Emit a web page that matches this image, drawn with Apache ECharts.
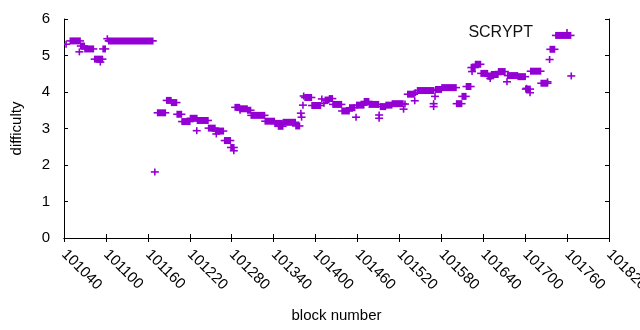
<!DOCTYPE html>
<html>
<head>
<meta charset="utf-8">
<title>SCRYPT difficulty</title>
<script src="https://cdn.jsdelivr.net/npm/echarts@6/dist/echarts.min.js"></script>
<style>
  html, body { margin: 0; padding: 0; background: #fff; }
  #chart { width: 640px; height: 330px; }
</style>
</head>
<body>
<div id="chart"></div>
<script>
// runs of blocks that share one difficulty value (from == to is a single block)
var blockFrom = [101043, 101049, 101062, 101064, 101070, 101084, 101092, 101096, 101102, 101104,
    101170, 101174, 101187, 101194, 101202, 101209, 101221, 101230, 101231, 101247,
    101257, 101258, 101270, 101279, 101283, 101285, 101292, 101292, 101303, 101308,
    101328, 101342, 101347, 101354, 101372, 101379, 101380, 101382, 101383, 101385,
    101395, 101409, 101412, 101414, 101420, 101425, 101438, 101449, 101458, 101459,
    101470, 101477, 101491, 101491, 101493, 101501, 101510, 101526, 101528, 101532,
    101542, 101543, 101546, 101569, 101569, 101571, 101572, 101581, 101602, 101610,
    101616, 101623, 101624, 101629, 101637, 101647, 101650, 101652, 101662, 101674,
    101675, 101690, 101701, 101702, 101707, 101708, 101723, 101732, 101735, 101736,
    101744, 101766];
var blockTo = [101043, 101063, 101062, 101069, 101082, 101095, 101092, 101099, 101102, 101167,
    101170, 101185, 101193, 101201, 101208, 101220, 101230, 101230, 101246, 101256,
    101268, 101258, 101278, 101283, 101283, 101291, 101302, 101292, 101307, 101327,
    101341, 101352, 101353, 101371, 101377, 101379, 101380, 101382, 101383, 101394,
    101407, 101409, 101412, 101419, 101424, 101437, 101448, 101456, 101458, 101469,
    101476, 101490, 101491, 101491, 101500, 101509, 101525, 101526, 101528, 101541,
    101542, 101543, 101569, 101569, 101569, 101571, 101580, 101601, 101609, 101615,
    101622, 101628, 101624, 101636, 101646, 101651, 101650, 101661, 101671, 101674,
    101689, 101700, 101707, 101702, 101707, 101722, 101732, 101732, 101735, 101742,
    101765, 101766];
var difficulty = [5.31, 5.40, 5.10, 5.26, 5.18, 4.90, 4.82, 5.18, 5.46, 5.40,
    1.81, 3.43, 3.77, 3.71, 3.39, 3.19, 3.28, 2.94, 3.22, 3.01,
    2.93, 2.85, 2.67, 2.48, 2.39, 3.58, 3.54, 3.50, 3.50, 3.36,
    3.20, 3.14, 3.06, 3.17, 3.07, 3.42, 3.31, 3.64, 3.89, 3.85,
    3.63, 3.81, 3.69, 3.78, 3.82, 3.66, 3.48, 3.57, 3.31, 3.64,
    3.74, 3.66, 3.37, 3.28, 3.60, 3.64, 3.68, 3.53, 3.67, 3.94,
    3.76, 3.98, 4.04, 3.68, 3.60, 3.88, 4.07, 4.12, 3.68, 3.88,
    4.15, 4.67, 4.56, 4.76, 4.51, 4.43, 4.37, 4.48, 4.56, 4.28,
    4.45, 4.42, 4.08, 4.10, 3.98, 4.57, 4.24, 4.28, 4.89, 5.17,
    5.55, 4.44];

var seriesName = 'SCRYPT';
var purple = '#9400d3';
var font = 'Liberation Sans, Arial, sans-serif';

var runs = blockFrom.map(function (b, i) {
    return [b, blockTo[i], difficulty[i]];
});

// gnuplot style '+' points; a run of neighbouring blocks merges into a bar
function drawRun(params, api) {
    var y = api.value(2);
    var a = api.coord([api.value(0), y]);
    var b = api.coord([api.value(1), y]);
    var h = 3.5;
    return {
        type: 'group',
        children: [{
            type: 'rect',
            shape: { x: a[0] - 0.8, y: a[1] - h, width: b[0] - a[0] + 1.6, height: 2 * h },
            style: { fill: purple }
        }, {
            type: 'line',
            shape: { x1: a[0] - h - 0.5, y1: a[1], x2: b[0] + h + 0.5, y2: a[1] },
            style: { stroke: purple, lineWidth: 1.6 }
        }]
    };
}

var tickStyle = { show: true, inside: true, length: 4, lineStyle: { color: '#000' } };
var lineStyle = { show: true, lineStyle: { color: '#000', width: 1 } };

var chart = echarts.init(document.getElementById('chart'), null, { renderer: 'canvas' });
chart.setOption({
    animation: false,
    backgroundColor: '#fff',
    textStyle: { fontFamily: font },
    grid: { left: 64, right: 31, top: 19, bottom: 92, containLabel: false, outerBoundsMode: 'none' },
    legend: {
        data: [seriesName],
        right: 69,
        top: 25,
        padding: 0,
        align: 'right',
        icon: 'path://M3.2,0h1.6v3.2h3.2v1.6h-3.2v3.2h-1.6v-3.2h-3.2v-1.6h3.2z',
        itemWidth: 8,
        itemHeight: 8,
        selectedMode: false,
        textStyle: { fontFamily: font, fontSize: 16, color: '#111', padding: [0, 25, 0, 0] }
    },
    xAxis: [{
        type: 'value',
        min: 101040,
        max: 101820,
        interval: 60,
        name: 'block number',
        nameLocation: 'middle',
        nameGap: 70,
        nameTextStyle: { fontFamily: font, fontSize: 15, color: '#000' },
        axisLine: lineStyle,
        axisTick: tickStyle,
        splitLine: { show: false },
        axisLabel: {
            rotate: -45,
            margin: 14,
            fontFamily: font,
            fontSize: 15,
            color: '#000',
            showMaxLabel: true,
            hideOverlap: false,
            formatter: function (v) { return String(v); }
        }
    }, {
        type: 'value',
        position: 'top',
        min: 101040,
        max: 101820,
        interval: 60,
        axisLine: lineStyle,
        axisTick: tickStyle,
        axisLabel: { show: false },
        splitLine: { show: false }
    }],
    yAxis: [{
        type: 'value',
        min: 0,
        max: 6,
        interval: 1,
        name: 'difficulty',
        nameLocation: 'middle',
        nameGap: 40,
        nameTextStyle: { fontFamily: font, fontSize: 15, color: '#000' },
        axisLine: lineStyle,
        axisTick: tickStyle,
        splitLine: { show: false },
        axisLabel: { margin: 14, fontFamily: font, fontSize: 15, color: '#000' }
    }, {
        type: 'value',
        position: 'right',
        min: 0,
        max: 6,
        interval: 1,
        axisLine: lineStyle,
        axisTick: tickStyle,
        axisLabel: { show: false },
        splitLine: { show: false }
    }],
    series: [{
        name: seriesName,
        type: 'custom',
        renderItem: drawRun,
        itemStyle: { color: purple },
        encode: { x: [0, 1], y: 2 },
        clip: true,
        data: runs
    }]
});
</script>
</body>
</html>
